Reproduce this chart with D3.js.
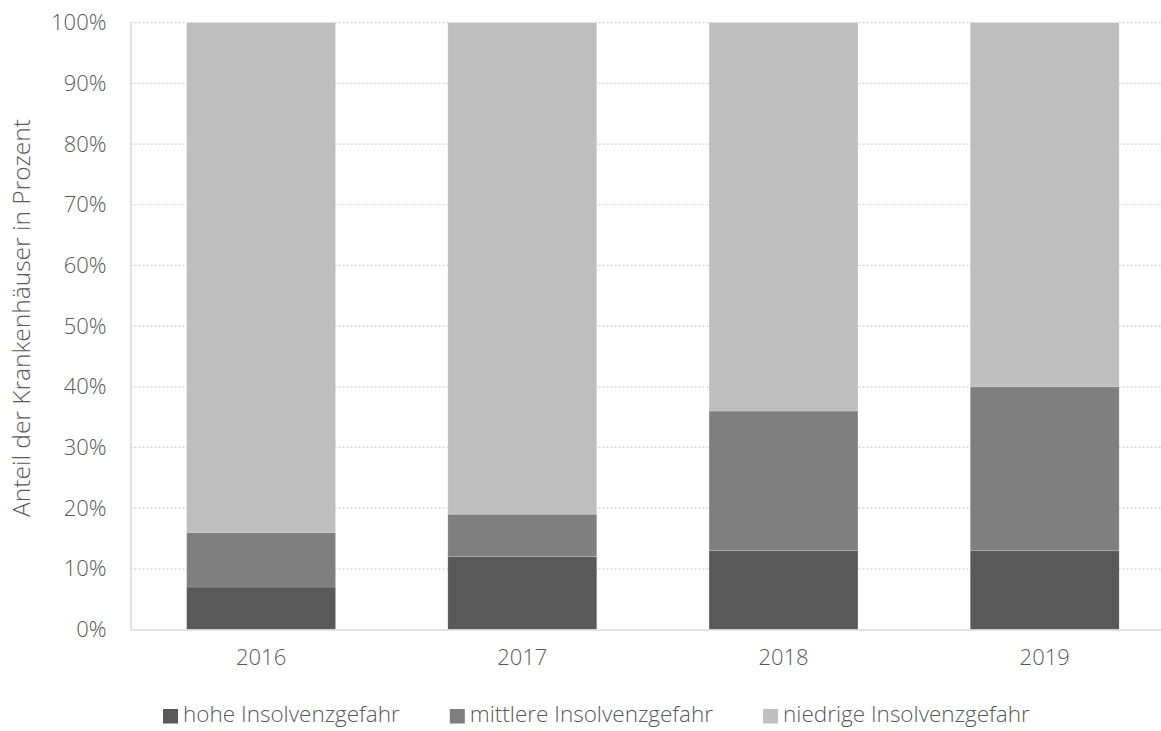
<!DOCTYPE html>
<html lang="de">
<head>
<meta charset="utf-8">
<script src="https://cdn.jsdelivr.net/npm/d3@7"></script>
<style>
  html, body { margin: 0; padding: 0; background: #fff; }
  svg { display: block; font-family: "Open Sans", "Noto Sans", sans-serif; font-weight: 300; }
</style>
</head>
<body>
<svg id="chart" width="1161" height="731"></svg>
<script>
// Jahre und Anteile (in %) je Risikoklasse
const years = ["2016", "2017", "2018", "2019"];
const hohe = [7, 12, 13, 13];
const mittlere = [9, 7, 23, 27];
const niedrige = [84, 81, 64, 60];
const seriesNames = ["hohe Insolvenzgefahr", "mittlere Insolvenzgefahr", "niedrige Insolvenzgefahr"];
const seriesColors = ["#595959", "#7f7f7f", "#bfbfbf"];
const yTicks = [0, 10, 20, 30, 40, 50, 60, 70, 80, 90, 100];
const yTitle = "Anteil der Krankenhäuser in Prozent";

const rows = years.map((y, i) => ({ year: y, hohe: hohe[i], mittlere: mittlere[i], niedrige: niedrige[i] }));
const keys = ["hohe", "mittlere", "niedrige"];
const stacked = d3.stack().keys(keys)(rows);

const svg = d3.select("#chart");
const textColor = "#595959";
const plot = { left: 130.5, right: 1175.3, top: 22.7, bottom: 629.5 };

const x = d3.scaleBand().domain(years).range([plot.left, plot.right])
  .paddingInner(0.43).paddingOuter(0.215);
const y = d3.scaleLinear().domain([0, 100]).range([plot.bottom, plot.top]);

// Gitterlinien (gepunktet)
svg.append("g")
  .selectAll("line")
  .data(yTicks.filter(t => t > 0))
  .join("line")
  .attr("x1", plot.left).attr("x2", plot.right)
  .attr("y1", d => y(d)).attr("y2", d => y(d))
  .attr("stroke", "#d0d0d0")
  .attr("stroke-width", 1.2)
  .attr("stroke-dasharray", "2,2");

// Y-Achse
const yAxis = svg.append("g")
  .attr("transform", `translate(${plot.left},0)`)
  .call(d3.axisLeft(y).tickValues(yTicks).tickFormat(d => d + "%").tickSize(0).tickPadding(24));
yAxis.select(".domain").attr("stroke", "#d9d9d9").attr("stroke-width", 1.5);
yAxis.selectAll("text")
  .attr("fill", textColor)
  .style("font-size", "22px")
  .style("font-family", "\"Open Sans\", sans-serif")
  .style("font-weight", 300);

// Gestapelte Säulen
svg.append("g")
  .selectAll("g")
  .data(stacked)
  .join("g")
  .attr("fill", (d, i) => seriesColors[i])
  .selectAll("rect")
  .data(d => d)
  .join("rect")
  .attr("x", d => x(d.data.year))
  .attr("width", x.bandwidth())
  .attr("y", d => y(d[1]))
  .attr("height", d => y(d[0]) - y(d[1]))
  .attr("stroke", "#ffffff")
  .attr("stroke-opacity", 0.2)
  .attr("stroke-width", 0.75);

// X-Achse
const xAxis = svg.append("g")
  .attr("transform", `translate(0,${plot.bottom})`)
  .call(d3.axisBottom(x).tickSize(0).tickPadding(20));
xAxis.select(".domain").attr("stroke", "#d9d9d9").attr("stroke-width", 1.5);
xAxis.selectAll("text")
  .attr("fill", textColor)
  .style("font-size", "22px")
  .style("font-family", "\"Open Sans\", sans-serif")
  .style("font-weight", 300);

// Achsentitel
svg.append("text")
  .attr("transform", "translate(30,318) rotate(-90)")
  .attr("text-anchor", "middle")
  .attr("fill", textColor)
  .style("font-size", "24.5px")
  .text(yTitle);

// Legende
const legend = svg.append("g").attr("transform", "translate(163,722)");
let lx = 0;
seriesNames.forEach((name, i) => {
  const item = legend.append("g").attr("transform", `translate(${lx},0)`);
  item.append("rect")
    .attr("x", 0).attr("y", -13)
    .attr("width", 15).attr("height", 14.5)
    .attr("fill", seriesColors[i]);
  const t = item.append("text")
    .attr("x", 20).attr("y", 0)
    .attr("fill", textColor)
    .style("font-size", "22.5px")
    .text(name);
  lx += 20 + t.node().getComputedTextLength() + 50;
});
</script>
</body>
</html>
